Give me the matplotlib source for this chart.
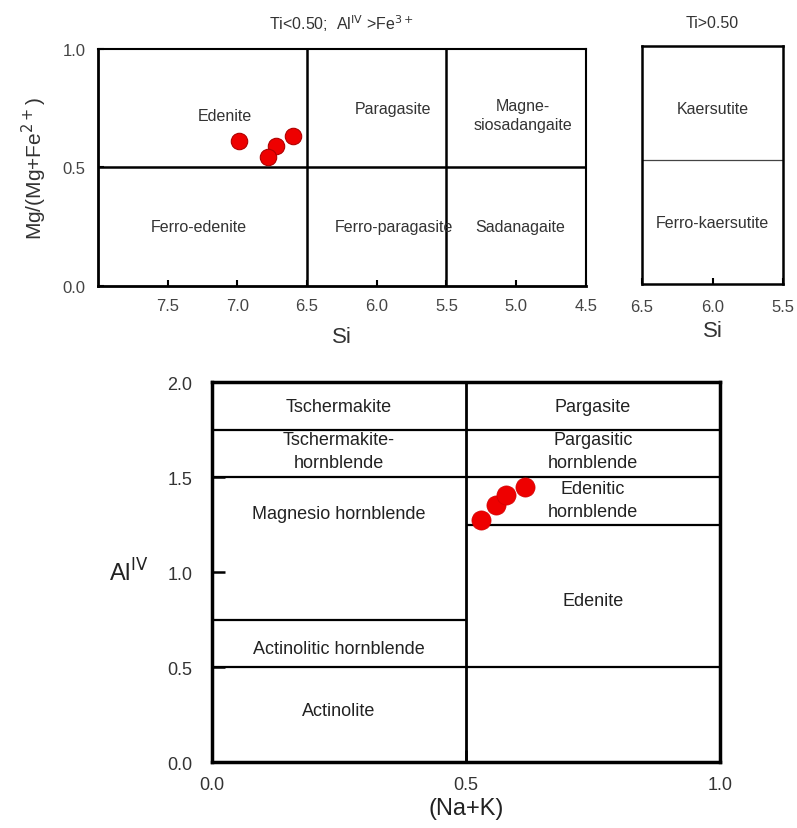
import matplotlib

matplotlib.use("Agg")
import matplotlib.pyplot as plt

plt.rcParams["font.family"] = ["Liberation Sans", "DejaVu Sans"]

# sample points, Si vs Mg/(Mg+Fe2+)
si_vals = [6.99, 6.72, 6.78, 6.60]
mg_vals = [0.61, 0.59, 0.545, 0.63]

# sample points, (Na+K) vs Al(IV)
nak_vals = [0.530, 0.560, 0.579, 0.616]
aliv_vals = [1.275, 1.354, 1.406, 1.451]

si_ticks = [7.5, 7.0, 6.5, 6.0, 5.5, 5.0, 4.5]
mg_ticks = [0.0, 0.5, 1.0]
si_ticks_ti = [6.5, 6.0, 5.5]
nak_ticks = [0.0, 0.5, 1.0]
aliv_ticks = [0.0, 0.5, 1.0, 1.5, 2.0]

# field labels: (text, x, y)
fields_low_ti = [
    ("Edenite", 7.09, 0.72),
    ("Ferro-edenite", 7.28, 0.25),
    ("Paragasite", 5.88, 0.75),
    ("Ferro-paragasite", 5.88, 0.25),
    ("Magne-\nsiosadangaite", 4.95, 0.72),
    ("Sadanagaite", 4.97, 0.25),
]
fields_high_ti = [
    ("Kaersutite", 6.0, 0.74),
    ("Ferro-kaersutite", 6.0, 0.26),
]
fields_nak = [
    ("Tschermakite", 0.25, 1.875),
    ("Tschermakite-\nhornblende", 0.25, 1.64),
    ("Magnesio hornblende", 0.25, 1.31),
    ("Actinolitic hornblende", 0.25, 0.6),
    ("Actinolite", 0.25, 0.27),
    ("Pargasite", 0.75, 1.875),
    ("Pargasitic\nhornblende", 0.75, 1.64),
    ("Edenitic\nhornblende", 0.75, 1.38),
    ("Edenite", 0.75, 0.85),
]

RED = "#ee0000"

fig = plt.figure(figsize=(7.97, 8.29), dpi=100)

# --- top left: Ti < 0.50 ---
ax1 = fig.add_axes([0.123, 0.654, 0.612, 0.286])
ax1.set_xlim(8.0, 4.5)
ax1.set_ylim(0, 1)
ax1.axvline(6.5, color="black", lw=1.8)
ax1.axvline(5.5, color="black", lw=1.8)
ax1.axhline(0.5, color="black", lw=1.8)
for text, x, y in fields_low_ti:
    ax1.text(x, y, text, ha="center", va="center", fontsize=11.5, color="#333333",
             linespacing=1.3)
ax1.scatter(si_vals, mg_vals, s=140, color=RED, edgecolor="#b00000", linewidth=0.8, zorder=5)
ax1.set_xticks(si_ticks)
ax1.set_xticklabels([f"{t:.1f}" for t in si_ticks])
ax1.set_yticks(mg_ticks)
ax1.set_yticklabels([f"{t:.1f}" for t in mg_ticks])
ax1.tick_params(direction="in", length=4, width=1.5, labelsize=12, labelcolor="#444444", pad=9)
ax1.set_xlabel("Si", fontsize=16, color="#333333", labelpad=9)
ax1.set_ylabel("Mg/(Mg+Fe$^{2+}$)", fontsize=15, color="#333333", labelpad=10)
ax1.set_title("Ti<0.50;  Al$^{\\mathrm{IV}}$ >Fe$^{3+}$", fontsize=11.5, color="#333333", pad=14)
ax1.spines[["top", "right"]].set_linewidth(1.5)
ax1.spines[["left", "bottom"]].set_linewidth(2.0)

# --- top right: Ti > 0.50 ---
ax2 = fig.add_axes([0.8055, 0.656, 0.177, 0.287])
ax2.set_xlim(6.5, 5.5)
ax2.set_ylim(0, 1)
ax2.axhline(0.52, color="#444444", lw=0.9)
for text, x, y in fields_high_ti:
    ax2.text(x, y, text, ha="center", va="center", fontsize=11.5, color="#333333")
ax2.set_xticks(si_ticks_ti)
ax2.set_xticklabels([f"{t:.1f}" for t in si_ticks_ti])
ax2.set_yticks([])
ax2.tick_params(direction="in", length=4, width=1.5, labelsize=12, labelcolor="#444444", pad=11)
ax2.set_xlabel("Si", fontsize=16, color="#333333", labelpad=4)
ax2.set_title("Ti>0.50", fontsize=11.5, color="#333333", pad=14)
for s in ax2.spines.values():
    s.set_linewidth(1.8)

# --- bottom: (Na+K) vs Al IV ---
ax3 = fig.add_axes([0.266, 0.0796, 0.637, 0.458])
ax3.set_xlim(0, 1)
ax3.set_ylim(0, 2)
ax3.axvline(0.5, color="black", lw=2.0)
ax3.hlines([1.75, 1.5, 0.5], 0, 1, color="black", lw=1.6)
ax3.hlines(1.25, 0.5, 1.0, color="black", lw=1.6)
ax3.hlines(0.75, 0.0, 0.5, color="black", lw=1.6)
for text, x, y in fields_nak:
    ax3.text(x, y, text, ha="center", va="center", fontsize=13, color="#222222",
             linespacing=1.45)
ax3.scatter(nak_vals, aliv_vals, s=190, color=RED, edgecolor="#d00000", linewidth=0.5, zorder=5)
ax3.set_xticks(nak_ticks)
ax3.set_xticklabels([f"{t:.1f}" for t in nak_ticks])
ax3.set_yticks(aliv_ticks)
ax3.set_yticklabels([f"{t:.1f}" for t in aliv_ticks])
ax3.tick_params(direction="in", length=9, width=1.8, labelsize=13, labelcolor="#333333", pad=14)
ax3.tick_params(axis="x", pad=10)
ax3.set_xlabel("(Na+K)", fontsize=17, color="#222222", labelpad=3)
ax3.set_ylabel("Al$^{\\mathrm{IV}}$", fontsize=17, color="#222222", rotation=0,
               labelpad=28, va="center")
for s in ax3.spines.values():
    s.set_linewidth(2.5)

fig.savefig("out.png", dpi=100)
